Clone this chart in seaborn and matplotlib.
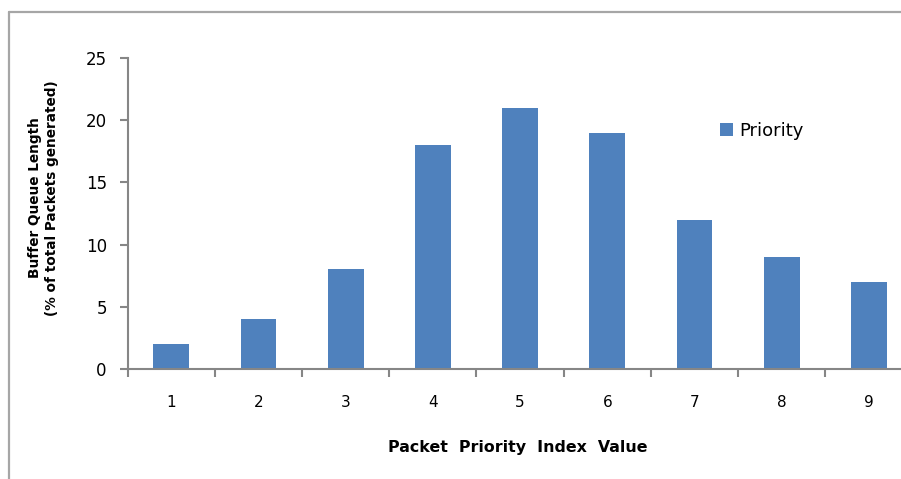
import matplotlib
matplotlib.use("Agg")
import matplotlib.pyplot as plt
import seaborn as sns
from matplotlib.lines import Line2D
from matplotlib.ticker import FixedLocator

# data
priority_index = ["1", "2", "3", "4", "5", "6", "7", "8", "9"]
queue_length = [2, 4, 8, 18, 21, 19, 12, 9, 7]
y_ticks = [0, 5, 10, 15, 20, 25]

sns.set_style("white")
plt.rcParams['font.family'] = ['DejaVu Sans']
plt.rcParams['text.color'] = "black"
plt.rcParams['axes.labelcolor'] = "black"

bar_color = "#4F81BD"
axis_gray = "#868686"

fig = plt.figure(figsize=(9.01, 4.79), dpi=100)
ax = fig.add_axes([0.1417, 0.2296, 0.871, 0.6493])

sns.barplot(x=priority_index, y=queue_length, color=bar_color, linewidth=0,
            width=0.41, label="Priority", ax=ax, saturation=1)

ax.set_xlim(-0.5, len(priority_index) - 0.5)
ax.set_ylim(0, 25)
ax.set_yticks(y_ticks)

# category boundary ticks like Excel
ax.xaxis.set_minor_locator(FixedLocator([i - 0.5 for i in range(len(priority_index) + 1)]))
ax.tick_params(axis="x", which="major", bottom=True, length=0, pad=19, labelsize=11,
               labelcolor="black")
ax.tick_params(axis="x", which="minor", bottom=True, length=6, width=1.5,
               color=axis_gray, direction="out")
ax.tick_params(axis="y", which="major", left=True, length=6, width=1.5, color=axis_gray,
               direction="out", pad=9, labelsize=12, labelcolor="black")

for side in ["top", "right"]:
    ax.spines[side].set_visible(False)
for side in ["left", "bottom"]:
    ax.spines[side].set_color(axis_gray)
    ax.spines[side].set_linewidth(1.5)

ax.set_xlabel("Packet  Priority  Index  Value", fontsize=11.4, fontweight="bold")
ax.set_ylabel("Buffer Queue Length\n(% of total Packets generated)", fontsize=9.8,
              fontweight="bold", linespacing=1.2)
ax.yaxis.set_label_coords(-0.088, 0.55)
ax.xaxis.set_label_coords(0.4966, -0.228)

ax.legend(loc="center left", bbox_to_anchor=(0.755, 0.765), frameon=False,
          fontsize=13, handlelength=0.7, handleheight=0.7, handletextpad=0.35,
          borderpad=0, borderaxespad=0)

# outer chart frame (left and top edges visible)
fig.add_artist(Line2D([9 / 901, 9 / 901], [0, 1 - 12 / 479], transform=fig.transFigure,
                      color="#A6A6A6", linewidth=1.6))
fig.add_artist(Line2D([9 / 901, 1], [1 - 12 / 479, 1 - 12 / 479], transform=fig.transFigure,
                      color="#A6A6A6", linewidth=1.6))

fig.savefig("out.png", dpi=100)
